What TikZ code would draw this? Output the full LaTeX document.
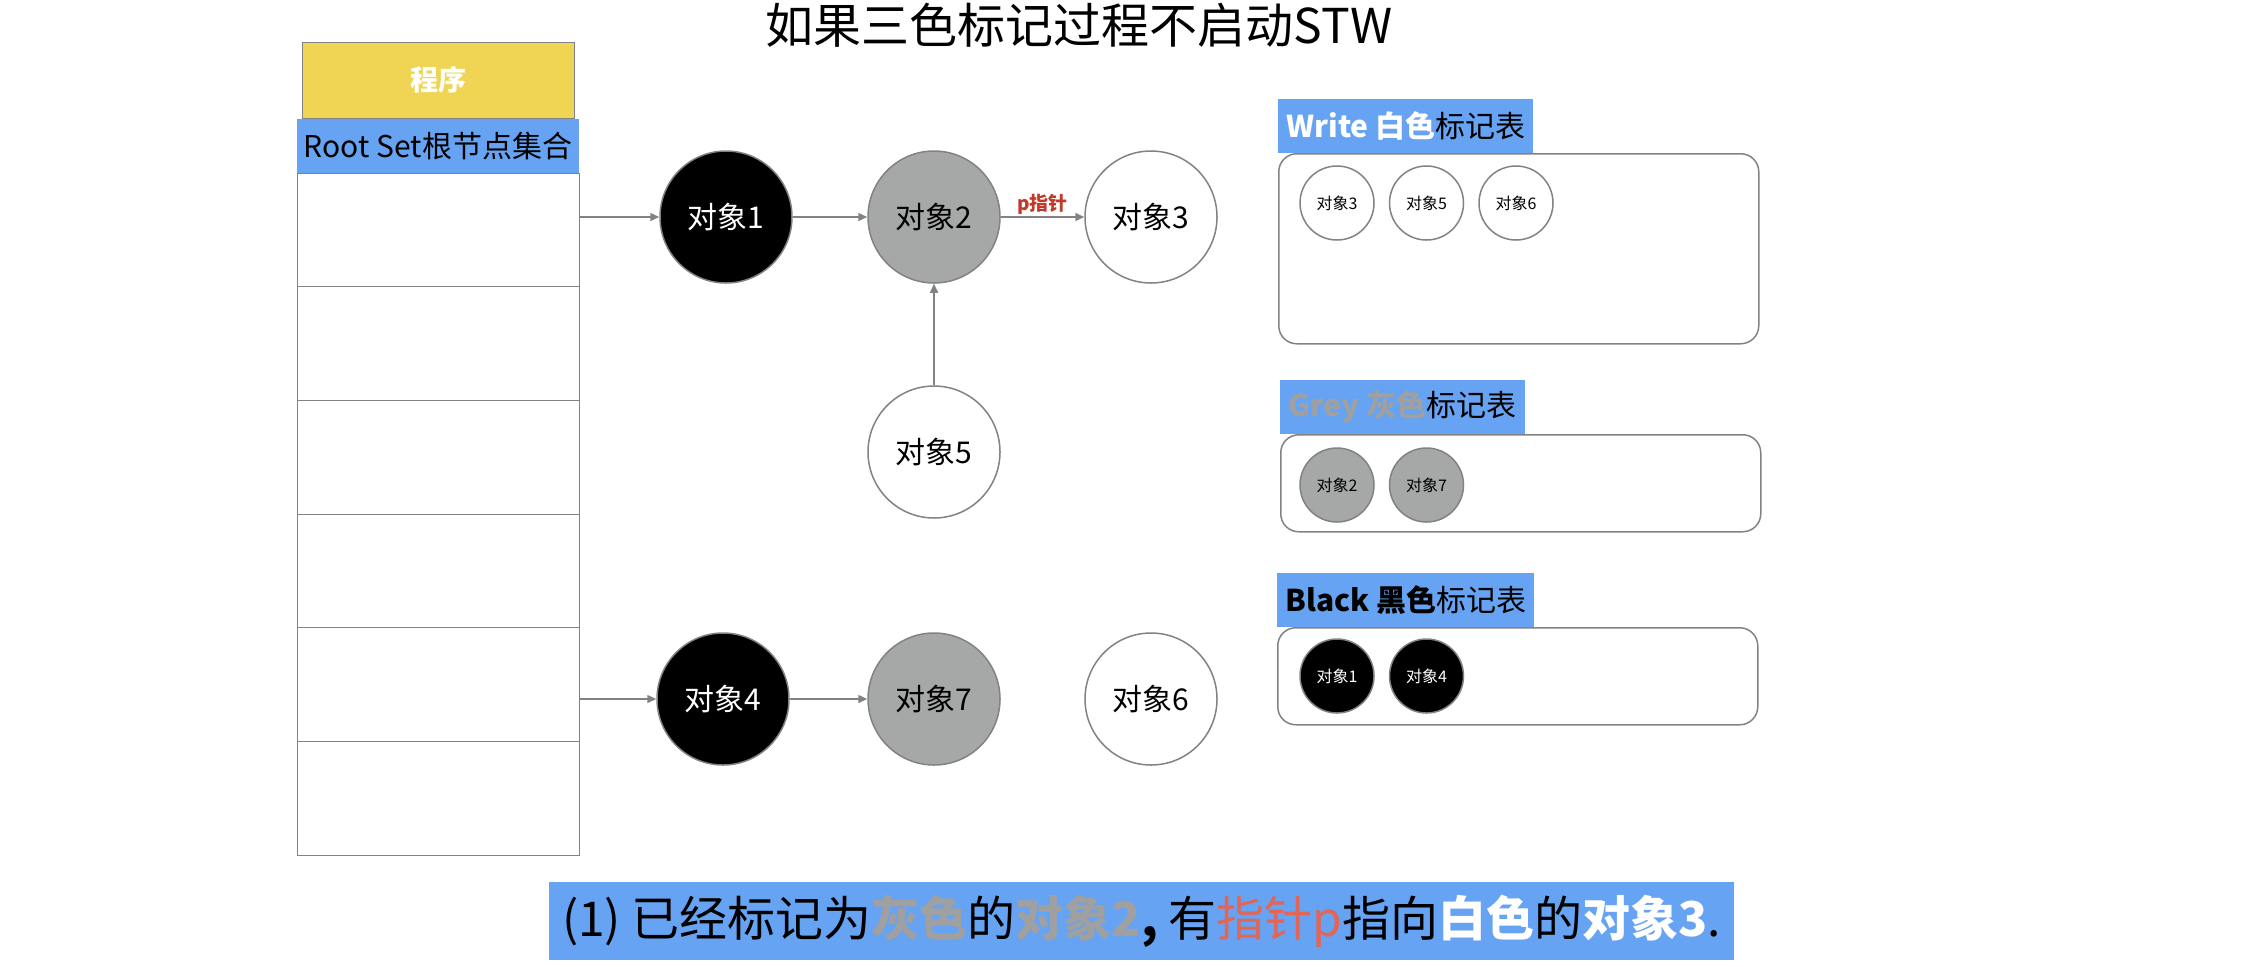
\documentclass[tikz,border=0pt]{standalone}
\usepackage{fontspec}
\setmainfont{Noto Sans CJK SC}
\usetikzlibrary{arrows.meta, positioning}
\definecolor{cBlue}{RGB}{102,163,242}
\definecolor{cYellow}{RGB}{239,213,83}
\definecolor{cGrey}{RGB}{165,168,166}
\definecolor{cGreyText}{RGB}{160,160,160}
\definecolor{cLine}{RGB}{130,130,130}
\definecolor{cRed}{RGB}{192,57,43}
\definecolor{cPink}{RGB}{228,100,85}
\tikzset{
	obj/.style   ={circle, draw=cLine, line width=0.75pt, minimum size=66pt, inner sep=0pt, font=\fontsize{15}{18}\selectfont},
	wobj/.style  ={obj, fill=white},
	gobj/.style  ={obj, fill=cGrey},
	bobj/.style  ={obj, fill=black, text=white},
	mini/.style  ={circle, draw=cLine, line width=0.75pt, minimum size=37pt, inner sep=0pt, font=\fontsize{8}{10}\selectfont},
	cell/.style  ={rectangle, draw=cLine, line width=0.5pt, minimum width=141pt, minimum height=56.85pt, inner sep=0pt},
	tag/.style   ={rectangle, fill=cBlue, inner xsep=4pt, inner ysep=0pt, minimum height=27pt, font=\fontsize{15}{18}\selectfont},
	panel/.style ={rectangle, rounded corners=9pt, draw=cLine, line width=0.75pt, minimum width=240pt, inner sep=0pt},
	sig/.style   ={-{Triangle[length=4.5pt, width=4pt]}, draw=cLine, line width=0.75pt},
}

\begin{document}
\begin{tikzpicture}[x=0.5pt, y=-0.5pt]
	\useasboundingbox (0,0) rectangle (2264,966);
	\node[font=\fontsize{24}{28}\selectfont] (title) at (1079,25) {如果三色标记过程不启动STW};
	% root set column
	\node[rectangle, draw=cLine, line width=0.5pt, fill=cYellow, minimum width=136pt, minimum height=38pt, text=white, font=\fontsize{14}{16}\selectfont\bfseries] (prog) at (438,80) {程序};
	\foreach \i in {1,...,6}
		\node[cell] (r\i) at (438,{173+113.7*(\i-0.5)}) {};
	\node[rectangle, fill=cBlue, minimum width=141pt, minimum height=27pt, inner sep=0pt, font=\fontsize{15}{18}\selectfont] (root) at (438,146) {Root Set根节点集合};
	% objects
	\node[bobj] (o1) at (726,217) {对象1};
	\node[gobj] (o2) at (934,217) {对象2};
	\node[wobj] (o3) at (1151,217) {对象3};
	\node[wobj] (o5) at (934,452) {对象5};
	\node[bobj] (o4) at (723,699) {对象4};
	\node[gobj] (o7) at (934,699) {对象7};
	\node[wobj] (o6) at (1151,699) {对象6};
	\draw[sig] (r1.east |- o1.west) -- (o1);
	\draw[sig] (o1) -- (o2);
	\draw[sig] (o2) -- node[above, inner sep=1pt, text=cRed, font=\fontsize{9.5}{11}\selectfont\bfseries] {p指针} (o3);
	\draw[sig] (o5) -- (o2);
	\draw[sig] (r5.east |- o4.west) -- (o4);
	\draw[sig] (o4) -- (o7);
	% mark tables
	\node[panel, minimum height=95pt, anchor=north west] (wpanel) at (1278,153) {};
	\node[tag, anchor=south west] (wtag) at (wpanel.north west) {\textcolor{white}{\bfseries Write 白色}标记表};
	\node[mini] (w3) at (1337,203) {对象3};
	\node[mini, right=7pt of w3] (w5) {对象5};
	\node[mini, right=7pt of w5] (w6) {对象6};
	\node[panel, minimum height=48.5pt, anchor=north west] (gpanel) at (1280,434) {};
	\node[tag, anchor=south west] (gtag) at (gpanel.north west) {\textcolor{cGreyText}{\bfseries Grey 灰色}标记表};
	\node[mini, fill=cGrey] (g2) at (1337,485) {对象2};
	\node[mini, fill=cGrey, right=7pt of g2] (g7) {对象7};
	\node[panel, minimum height=48.5pt, anchor=north west] (bpanel) at (1277,627) {};
	\node[tag, anchor=south west] (btag) at (bpanel.north west) {{\bfseries Black 黑色}标记表};
	\node[mini, fill=black, text=white] (b1) at (1337,676) {对象1};
	\node[mini, fill=black, text=white, right=7pt of b1] (b4) {对象4};
	% caption
	\node[rectangle, fill=cBlue, minimum width=592.5pt, minimum height=39pt, inner sep=0pt, font=\fontsize{24}{28}\selectfont] (note) at (1141.5,921)
		{(1) 已经标记为\textcolor{cGreyText}{\bfseries 灰色}的\textcolor{cGreyText}{\bfseries 对象2}\textbf{,} 有\textcolor{cPink}{指针p}指向\textcolor{white}{\bfseries 白色}的\textcolor{white}{\bfseries 对象3}.};
\end{tikzpicture}
\end{document}
